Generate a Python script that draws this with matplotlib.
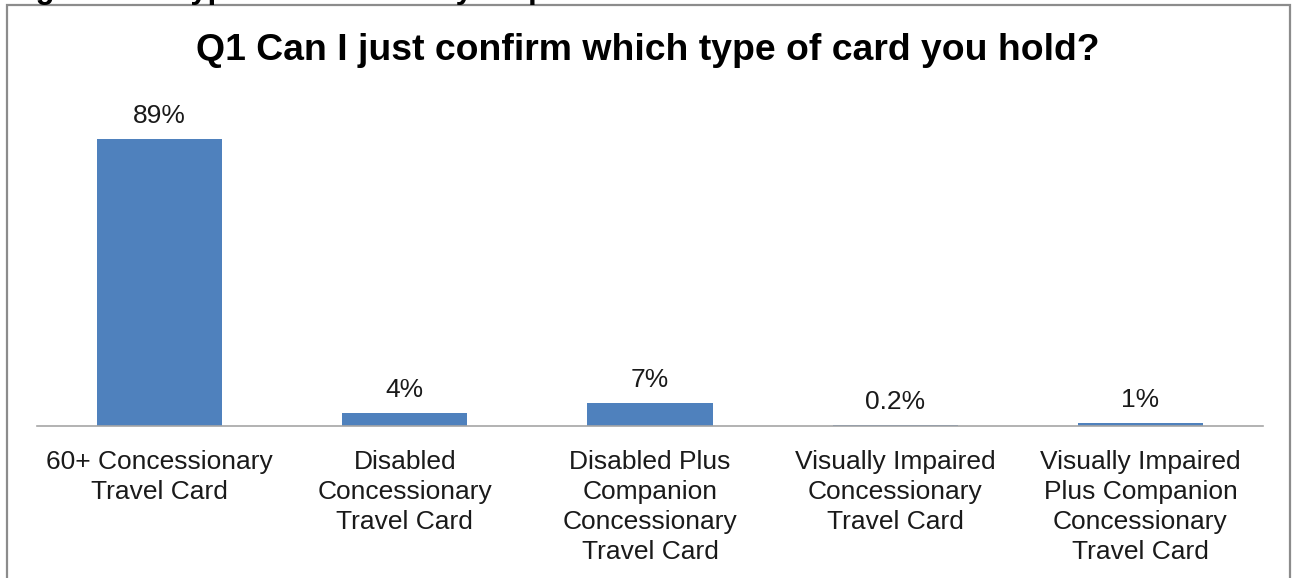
import matplotlib
matplotlib.use("Agg")
import matplotlib.pyplot as plt
from matplotlib.patches import Rectangle

plt.rcParams['font.family'] = ['Liberation Sans', 'DejaVu Sans']

categories = [
    "60+ Concessionary\nTravel Card",
    "Disabled\nConcessionary\nTravel Card",
    "Disabled Plus\nCompanion\nConcessionary\nTravel Card",
    "Visually Impaired\nConcessionary\nTravel Card",
    "Visually Impaired\nPlus Companion\nConcessionary\nTravel Card",
]
values = [89, 4, 7, 0.2, 1]
value_labels = ["89%", "4%", "7%", "0.2%", "1%"]
title = "Q1 Can I just confirm which type of card you hold?"
caption = "Figure 2.1: Type of card held by respondent"

W, H = 1295, 578
fig = plt.figure(figsize=(W / 100, H / 100), dpi=100)
fig.patch.set_facecolor("white")

# caption above the frame, cut off by the top edge as in the reference
fig.text(8 / W, 1 + 2 / H, caption,
         fontsize=22.3, fontweight="bold", ha="left", va="baseline", color="black")

# outer chart frame
fig.patches.append(Rectangle((7 / W, -0.05), (1290 - 7) / W, 1.05 - 5 / H,
                             transform=fig.transFigure, fill=False,
                             edgecolor="#8c8c8c", linewidth=1.6))

left, right = 37 / W, 1263 / W
bottom, top = (H - 426) / H, (H - 103.5) / H
ax = fig.add_axes([left, bottom, right - left, top - bottom])

x = list(range(len(categories)))
ax.bar(x, values, width=0.51, color="#4F81BD", zorder=2)
ax.set_xlim(-0.5, len(categories) - 0.5)
ax.set_ylim(0, 100)

for xi, v, lab in zip(x, values, value_labels):
    ax.annotate(lab, (xi, v), xytext=(0, 8), textcoords="offset points",
                ha="center", va="bottom", fontsize=19, color="#1a1a1a")

ax.set_xticks(x)
ax.set_xticklabels(categories, fontsize=19, color="#1a1a1a", linespacing=1.33)
ax.tick_params(axis="x", length=0, pad=17)
ax.set_yticks([])
for s in ["top", "left", "right"]:
    ax.spines[s].set_visible(False)
ax.spines["bottom"].set_color("#a6a6a6")
ax.spines["bottom"].set_linewidth(1.2)

fig.text(0.5, 1 - 51 / H, title, fontsize=26.9, fontweight="bold",
         ha="center", va="center", color="black")

fig.savefig("out.png", dpi=100)
